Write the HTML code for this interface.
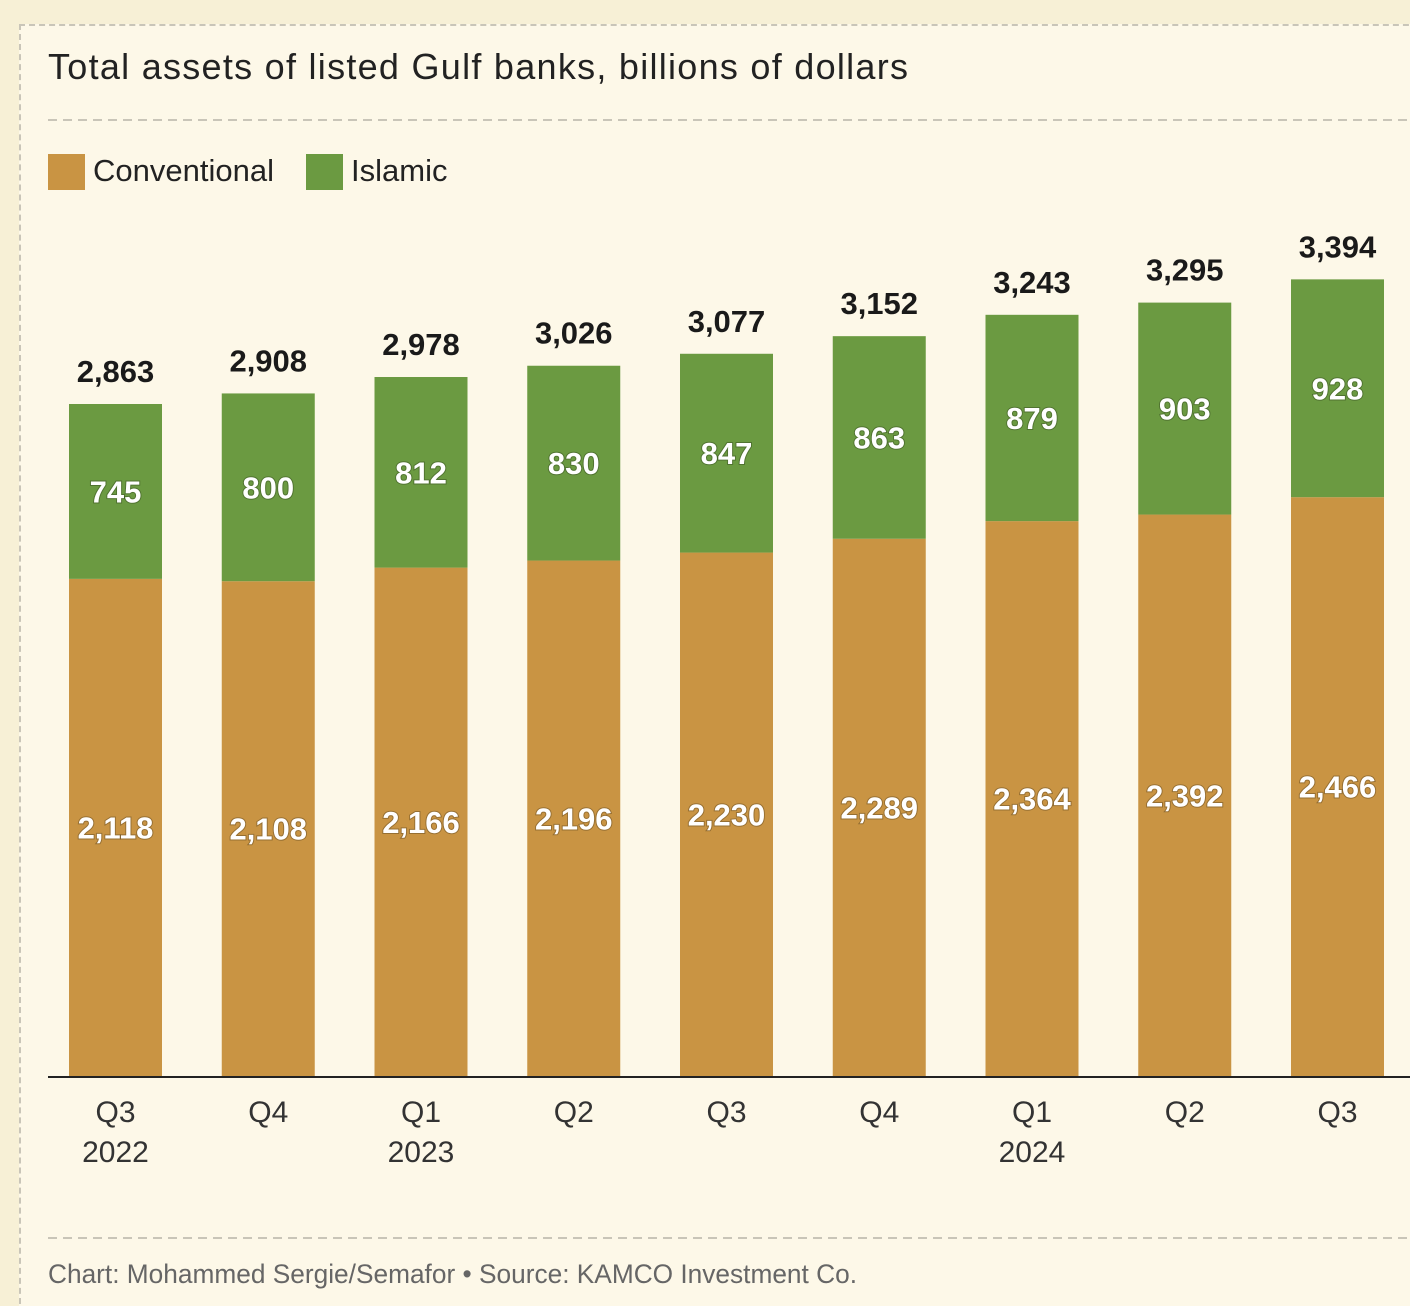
<!DOCTYPE html>
<html><head><meta charset="utf-8"><style>
body{margin:0;background:#f7f0d6;}
#wrap{position:relative;width:1410px;height:1306px;background:#f7f0d6;overflow:hidden}
#box{position:absolute;left:19px;top:24px;width:1420px;height:1300px;background:#fdf8e8;border:2px dashed #c9c5b8;box-sizing:border-box}
svg{position:absolute;left:0;top:0}
text{font-family:"Liberation Sans Narrow","Liberation Sans",sans-serif}
</style></head><body>
<div id="wrap">
<div id="box"></div>
<svg id="chart" width="1410" height="1306">
<text x="48" y="79" font-size="36" textLength="860" lengthAdjust="spacing" fill="#222" style="font-family:'Liberation Sans',sans-serif">Total assets of listed Gulf banks, billions of dollars</text>
<line x1="48" y1="120" x2="1410" y2="120" stroke="#c9c5b8" stroke-width="2" stroke-dasharray="9,6"/>
<g>
<rect x="48" y="154" width="37" height="36" fill="#c99443"/>
<text x="93" y="181" font-size="31" fill="#222">Conventional</text>
<rect x="306" y="154" width="37" height="36" fill="#6b9a41"/>
<text x="351" y="181" font-size="31" fill="#222">Islamic</text>
</g>
<g id="bars"></g>
<line x1="48" y1="1077" x2="1410" y2="1077" stroke="#222" stroke-width="2"/>
<line x1="48" y1="1238" x2="1410" y2="1238" stroke="#c9c5b8" stroke-width="2" stroke-dasharray="9,6"/>
<text x="48" y="1283" font-size="27" textLength="809" lengthAdjust="spacingAndGlyphs" fill="#666">Chart: Mohammed Sergie/Semafor • Source: KAMCO Investment Co.</text>
</svg>
</div>
<script>
const quarters=["Q3","Q4","Q1","Q2","Q3","Q4","Q1","Q2","Q3"];
const years=["2022","","2023","","","","2024","",""];
const conventional=[2118,2108,2166,2196,2230,2289,2364,2392,2466];
const islamic=[745,800,812,830,847,863,879,903,928];
const totals=[2863,2908,2978,3026,3077,3152,3243,3295,3394];
const NS="http://www.w3.org/2000/svg";
const base=1076, k=672/2863, x0=69, pitch=152.75, bw=93;
const y=v=>base-v*k, xb=i=>x0+i*pitch;
const fmt=v=>v.toLocaleString("en-US");
const g=document.getElementById("bars");
function mk(tag,attrs){const e=document.createElementNS(NS,tag);for(const a in attrs)e.setAttribute(a,attrs[a]);g.appendChild(e);return e;}
function txt(x,yy,s,size,fill,shadow){const t=mk("text",{x:x,y:yy,"font-size":size,"font-weight":"bold","text-anchor":"middle",fill:fill});if(shadow)t.setAttribute("style","paint-order:stroke;stroke:rgba(0,0,0,0.25);stroke-width:2px");t.textContent=s;return t;}
quarters.forEach((q,i)=>{
  const x=xb(i), c=conventional[i], s=islamic[i], cx=x+bw/2;
  const r1=mk("rect",{x:x,y:y(c),width:bw,height:base-y(c),fill:"#c99443"});
  
  
  const r2=mk("rect",{x:x,y:y(c+s),width:bw,height:y(c)-y(c+s),fill:"#6b9a41"});
  
  
  const l1=txt(cx,(y(c)+base)/2+11,fmt(c),31,"#fff",true);
  
  
  const l2=txt(cx,(y(c)+y(c+s))/2+11,fmt(s),31,"#fff",true);
  
  
  const l3=txt(cx,y(totals[i])-22,fmt(totals[i]),31,"#1a1a1a",false);
  
  
  const tq=mk("text",{x:cx,y:1122,"font-size":30,"text-anchor":"middle",fill:"#333"});
  tq.textContent=q;
  
  
  if(years[i]){const ty=mk("text",{x:cx,y:1162,"font-size":30,"text-anchor":"middle",fill:"#333"});ty.textContent=years[i];
  
  }
});
</script>
</body></html>
